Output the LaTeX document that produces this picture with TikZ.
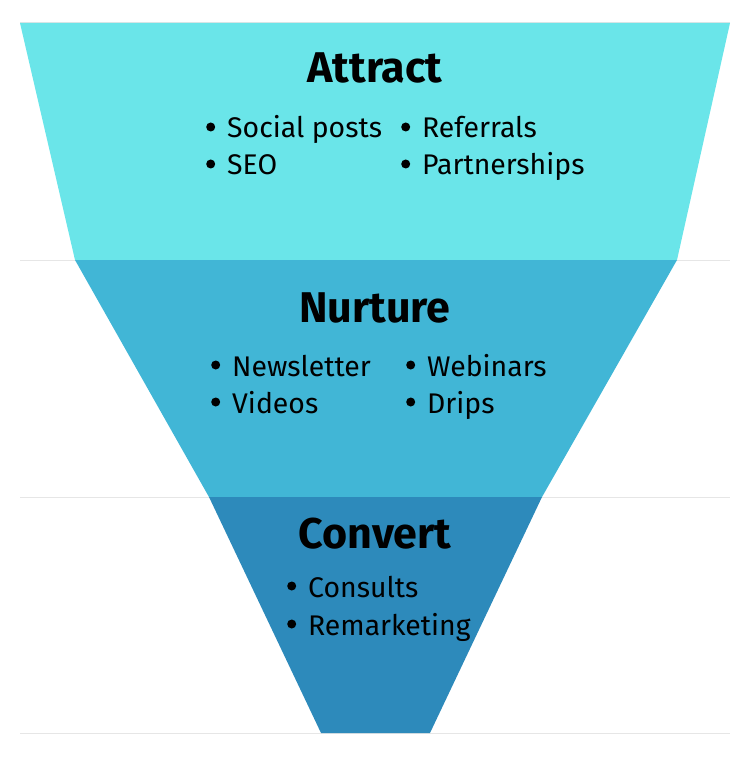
\documentclass[tikz,border=0pt]{standalone}
\usepackage{fontspec}
\setmainfont{Fira Sans}
\usepackage{xcolor}
\definecolor{aqua}{HTML}{6AE5E9}
\definecolor{sky}{HTML}{41B6D6}
\definecolor{ocean}{HTML}{2D8ABB}
\definecolor{rule}{HTML}{E6E6E6}
\newcommand{\pt}[1]{\tikz[baseline=0pt,x=1pt,y=1pt]\fill (4.5,11) circle (4.5);\hspace{12pt}#1}
\begin{document}
\begin{tikzpicture}[x=1pt,y=-1pt,
      title/.style={font=\fontsize{43}{45}\selectfont\bfseries,anchor=base},
      entry/.style={font=\fontsize{28.4}{30}\selectfont,anchor=base west,inner sep=0pt},
      guide/.style={draw=rule,line width=1pt}]
  \useasboundingbox (0,0) rectangle (748,759);
  % guide lines behind the funnel
  \foreach \y in {23,260,497,733} \draw[guide] (20,\y) -- (730,\y);
  % funnel bands
  \fill[aqua] (20,23) -- (730,23) -- (677,260) -- (75,260) -- cycle;
  \fill[sky] (75,260) -- (677,260) -- (542,497) -- (209,497) -- cycle;
  \fill[ocean] (209,497) -- (542,497) -- (430,733) -- (321,733) -- cycle;
  % attract
  \node[title] (attract) at (375,83) {Attract};
  \node[entry] (social) at (206,138) {\pt{Social posts}};
  \node[entry] (seo) at (206,175) {\pt{SEO}};
  \node[entry] (referrals) at (401,138) {\pt{Referrals}};
  \node[entry] (partners) at (401,175) {\pt{Partnerships}};
  % nurture
  \node[title] (nurture) at (375,322) {Nurture};
  \node[entry] (news) at (211,376) {\pt{Newsletter}};
  \node[entry] (videos) at (211,413) {\pt{Videos}};
  \node[entry] (webinars) at (406,376) {\pt{Webinars}};
  \node[entry] (drips) at (406,413) {\pt{Drips}};
  % convert
  \node[title] (convert) at (375,548) {Convert};
  \node[entry] (consults) at (287,597) {\pt{Consults}};
  \node[entry] (remarket) at (287,635) {\pt{Remarketing}};
\end{tikzpicture}
\end{document}
